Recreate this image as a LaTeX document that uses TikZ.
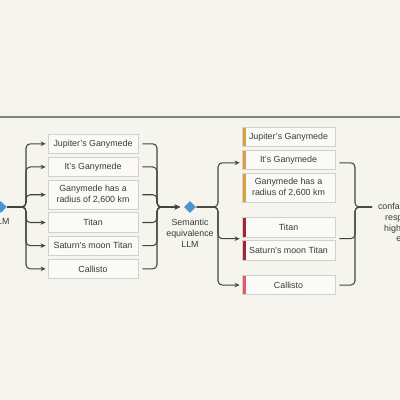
\documentclass[tikz,border=0pt]{standalone}
\usepackage{fontspec}
\setmainfont{Liberation Sans}
\usetikzlibrary{arrows.meta, positioning, shapes.geometric, calc}
\definecolor{cbg}{HTML}{F5F4ED}
\definecolor{cbox}{HTML}{FBFAF7}
\definecolor{cedge}{HTML}{D0D0D4}
\definecolor{cline}{HTML}{444444}
\definecolor{ctext}{HTML}{3A3A3A}
\definecolor{crule}{HTML}{808080}
\definecolor{cblue}{HTML}{4C93D3}
\definecolor{cgold}{HTML}{D4A43A}
\definecolor{cdred}{HTML}{A3282B}
\definecolor{cred}{HTML}{E05C5C}
\tikzset{
  every picture/.style={font=\fontsize{6.3}{7.7}\selectfont, text=ctext, line width=0.75pt},
  box/.style={draw=cedge, fill=cbox, line width=0.55pt, align=center, inner sep=2pt, minimum height=0.49cm},
  lbox/.style={box, minimum width=2.25cm},
  rbox/.style={box, minimum width=2.325cm, path picture={\fill[#1] (path picture bounding box.south west) rectangle ([xshift=3.1pt]path picture bounding box.north west);}},
  gem/.style={diamond, fill=cblue, inner sep=0pt, minimum width=0.3cm, minimum height=0.3cm},
  link/.style={draw=cline, rounded corners=3pt},
  arrow/.style={link, -{Stealth[length=3.6pt, width=3.2pt]}, shorten >=1.4pt},
  note/.style={align=center, inner sep=2pt},
}
\begin{document}
\begin{tikzpicture}
  \fill[cbg] (0,0) rectangle (10,10);
  \useasboundingbox (0,0) rectangle (10,10);
  \draw[crule, line width=0.8pt] (0,7.075) -- (10,7.075);

  \node[gem] (d1) at (0.02,4.825) {};
  \node[note, below=1pt of d1] (t1) {LLM};
  \node[lbox] (l1) at (2.325,6.405) {Jupiter's Ganymede};
  \node[lbox, below=0.07cm of l1] (l2) {It's Ganymede};
  \node[lbox, below=0.07cm of l2, minimum height=0.72cm] (l3) {Ganymede has a\\radius of 2,600 km};
  \node[lbox, below=0.07cm of l3] (l4) {Titan};
  \node[lbox, below=0.07cm of l4] (l5) {Saturn's moon Titan};
  \node[lbox, below=0.07cm of l5] (l6) {Callisto};
  \coordinate (f1) at (0.65,4.825);
  \draw[arrow] (d1.east) -- (f1) |- (l1.west); \draw[arrow] (d1.east) -- (f1) |- (l2.west); \draw[arrow] (d1.east) -- (f1) |- (l3.west);
  \draw[arrow] (d1.east) -- (f1) |- (l4.west); \draw[arrow] (d1.east) -- (f1) |- (l5.west); \draw[arrow] (d1.east) -- (f1) |- (l6.west);

  \node[gem] (d2) at (4.75,4.825) {};
  \node[note, below=1.5pt of d2] (t2) {Semantic\\equivalence\\LLM};
  \coordinate (m1) at (3.925,4.825);
  \draw[arrow, shorten <=2.8pt, shorten >=2.6pt] (l1.east) -| (m1) -- (d2.west); \draw[arrow, shorten <=2.8pt, shorten >=2.6pt] (l2.east) -| (m1) -- (d2.west);
  \draw[arrow, shorten <=2.8pt, shorten >=2.6pt] (l3.east) -| (m1) -- (d2.west); \draw[arrow, shorten <=2.8pt, shorten >=2.6pt] (l4.east) -| (m1) -- (d2.west);
  \draw[arrow, shorten <=2.8pt, shorten >=2.6pt] (l5.east) -| (m1) -- (d2.west); \draw[arrow, shorten <=2.8pt, shorten >=2.6pt] (l6.east) -| (m1) -- (d2.west);

  \node[rbox=cgold] (r1) at (7.2125,6.58) {Jupiter's Ganymede};
  \node[rbox=cgold, below=0.07cm of r1] (r2) {It's Ganymede};
  \node[rbox=cgold, below=0.07cm of r2, minimum height=0.72cm] (r3) {Ganymede has a\\radius of 2,600 km};
  \node[rbox=cdred, below=0.36cm of r3] (r4) {Titan};
  \node[rbox=cdred, below=0.07cm of r4] (r5) {Saturn's moon Titan};
  \node[rbox=cred, below=0.36cm of r5] (r6) {Callisto};
  \coordinate (f2) at (5.45,4.825);
  \coordinate (g1) at ($(r4.south west)!0.5!(r5.north west)$);
  \coordinate (g2) at ($(r4.south east)!0.5!(r5.north east)$);
  \draw[arrow] (d2.east) -- (f2) |- ([yshift=-2pt]r2.west); \draw[arrow] (d2.east) -- (f2) |- (g1); \draw[arrow] (d2.east) -- (f2) |- (r6.west);

  \coordinate (m2) at (8.875,4.825);
  \coordinate (e) at (9.3,4.825);
  \node[note, anchor=north] (c) at (10.14,5.01) {confabulation,\\responses\\high risk of\\error};
  \draw[link, shorten <=2.8pt] ([yshift=-2pt]r2.east) -| (m2) -- (e); \draw[link, shorten <=2.8pt] (g2) -| (m2) -- (e); \draw[link, shorten <=2.8pt] (r6.east) -| (m2) -- (e);
\end{tikzpicture}
\end{document}
